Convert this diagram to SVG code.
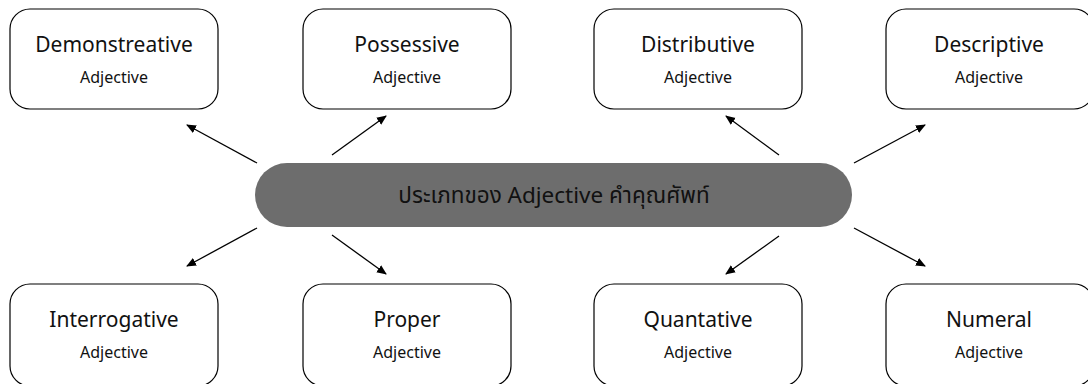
<svg xmlns="http://www.w3.org/2000/svg" width="1088" height="384" viewBox="0 0 1088 384">
<style>
.box{fill:#fff;stroke:#000;stroke-width:1.2}
.t1{font-family:"Noto Sans","Liberation Sans",sans-serif;font-size:21px;fill:#111;text-anchor:middle}
.t2{font-family:"Noto Sans","Liberation Sans",sans-serif;font-size:16px;fill:#111;text-anchor:middle}
.tc{font-family:"Noto Sans","Noto Sans Thai","Liberation Sans",sans-serif;font-size:22.5px;fill:#111;text-anchor:middle}
.ln{stroke:#000;stroke-width:1.3;fill:none;marker-end:url(#ah)}
</style>
<defs>
<marker id="ah" viewBox="0 0 10 10" refX="9" refY="5" markerWidth="10" markerHeight="10" markerUnits="userSpaceOnUse" orient="auto">
<path d="M0,0.8 L10,5 L0,9.2 Z" fill="#000"/>
</marker>
</defs>
<rect width="1088" height="384" fill="#fff"/>
<g id="center">
<rect x="255" y="163" width="597" height="64" rx="32" fill="#6d6d6d"/>
<text class="tc" x="554" y="203">ประเภทของ Adjective คำคุณศัพท์</text>
</g>
<g id="demonstrative"><rect class="box" x="10" y="9" width="208" height="100" rx="20"/><text class="t1" x="114" y="52">Demonstreative</text><text class="t2" x="114" y="83">Adjective</text></g>
<g id="possessive"><rect class="box" x="303" y="9" width="208" height="100" rx="20"/><text class="t1" x="407" y="52">Possessive</text><text class="t2" x="407" y="83">Adjective</text></g>
<g id="distributive"><rect class="box" x="594" y="9" width="208" height="100" rx="20"/><text class="t1" x="698" y="52">Distributive</text><text class="t2" x="698" y="83">Adjective</text></g>
<g id="descriptive"><rect class="box" x="886" y="9" width="208" height="100" rx="20"/><text class="t1" x="989" y="52">Descriptive</text><text class="t2" x="989" y="83">Adjective</text></g>
<g id="interrogative"><rect class="box" x="10" y="284" width="208" height="102" rx="20"/><text class="t1" x="114" y="327">Interrogative</text><text class="t2" x="114" y="358">Adjective</text></g>
<g id="proper"><rect class="box" x="303" y="284" width="208" height="102" rx="20"/><text class="t1" x="407" y="327">Proper</text><text class="t2" x="407" y="358">Adjective</text></g>
<g id="quantative"><rect class="box" x="594" y="284" width="208" height="102" rx="20"/><text class="t1" x="698" y="327">Quantative</text><text class="t2" x="698" y="358">Adjective</text></g>
<g id="numeral"><rect class="box" x="886" y="284" width="208" height="102" rx="20"/><text class="t1" x="989" y="327">Numeral</text><text class="t2" x="989" y="358">Adjective</text></g>
<g id="connectors">
<line class="ln" x1="257" y1="163" x2="187" y2="125"/>
<line class="ln" x1="332" y1="155" x2="386" y2="116"/>
<line class="ln" x1="779" y1="155" x2="726" y2="116"/>
<line class="ln" x1="854" y1="163" x2="925" y2="125"/>
<line class="ln" x1="257" y1="228" x2="187" y2="266"/>
<line class="ln" x1="332" y1="235" x2="386" y2="274"/>
<line class="ln" x1="779" y1="236" x2="726" y2="274"/>
<line class="ln" x1="854" y1="228" x2="925" y2="266"/>
</g>
</svg>
